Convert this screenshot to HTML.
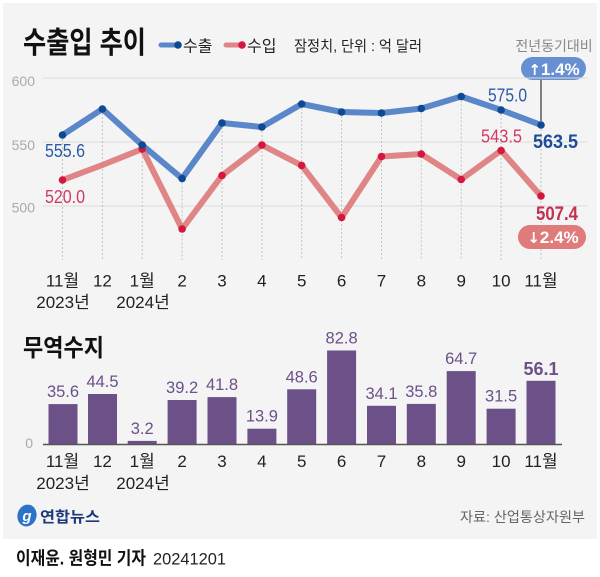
<!DOCTYPE html>
<html><head><meta charset="utf-8">
<style>
html,body{margin:0;padding:0;background:#fff;}
svg{display:block;}
text{font-family:"Liberation Sans","Noto Sans CJK KR",sans-serif;}
</style></head><body>
<svg width="600" height="577" viewBox="0 0 600 577" xmlns="http://www.w3.org/2000/svg">
<rect x="0" y="0" width="600" height="577" fill="#fff"/>
<rect x="3" y="3" width="594" height="536" fill="#f4f4f4"/>

<!-- title & legend -->
<text x="23" y="53" font-size="30" font-weight="bold" fill="#111" textLength="123" lengthAdjust="spacingAndGlyphs">수출입 추이</text>
<line x1="161" y1="45" x2="177" y2="45" stroke="#5b86c9" stroke-width="5" stroke-linecap="round"/>
<circle cx="178" cy="45" r="3.8" fill="#0d4a94"/>
<text x="183" y="51.5" font-size="16" fill="#222">수출</text>
<line x1="226" y1="45" x2="241" y2="45" stroke="#e08585" stroke-width="5" stroke-linecap="round"/>
<circle cx="242" cy="45" r="3.8" fill="#d4173f"/>
<text x="247" y="51.5" font-size="16" fill="#222">수입</text>
<text x="294" y="51" font-size="15" fill="#222" textLength="128" lengthAdjust="spacingAndGlyphs">잠정치, 단위 : 억 달러</text>

<text x="554" y="51" font-size="14" fill="#888" text-anchor="middle">전년동기대비</text>
<rect x="521" y="57" width="65" height="23" rx="11.5" fill="#6790d2"/>
<text x="554" y="75" font-size="17" font-weight="bold" fill="#fff" text-anchor="middle"><tspan font-family="DejaVu Sans" font-size="15">↑</tspan>1.4%</text>

<!-- gridlines -->
<g stroke="#dcdcdc" stroke-width="1">
<line x1="43" y1="78" x2="588" y2="78"/>
<line x1="43" y1="142" x2="588" y2="142"/>
<line x1="43" y1="206" x2="588" y2="206"/>
</g>
<g font-size="14" fill="#aaa" text-anchor="end">
<text x="35" y="86">600</text>
<text x="35" y="150">550</text>
<text x="35" y="212.5">500</text>
</g>

<!-- vertical dotted -->
<g stroke="#c4c4c4" stroke-width="1" stroke-dasharray="2,2">
<line x1="62.5" y1="135" x2="62.5" y2="260"/>
<line x1="102.4" y1="109" x2="102.4" y2="260"/>
<line x1="142.2" y1="145" x2="142.2" y2="260"/>
<line x1="182.1" y1="178.5" x2="182.1" y2="260"/>
<line x1="222" y1="123" x2="222" y2="260"/>
<line x1="261.9" y1="127" x2="261.9" y2="260"/>
<line x1="301.7" y1="104" x2="301.7" y2="260"/>
<line x1="341.6" y1="112" x2="341.6" y2="260"/>
<line x1="381.5" y1="113" x2="381.5" y2="260"/>
<line x1="421.3" y1="108.5" x2="421.3" y2="260"/>
<line x1="461.2" y1="96.5" x2="461.2" y2="260"/>
<line x1="501.1" y1="110" x2="501.1" y2="260"/>
<line x1="541" y1="125" x2="541" y2="260"/>
</g>
<line x1="541" y1="80" x2="541" y2="121" stroke="#333" stroke-width="1.2"/>

<!-- import line -->
<polyline fill="none" stroke="#e08585" stroke-width="6" stroke-linejoin="round" stroke-linecap="round"
points="62.5,180 102.4,165 142.2,149 182.1,229 222,175.5 261.9,145 301.7,165.5 341.6,217.5 381.5,156.5 421.3,154 461.2,179.5 501.1,150.5 541,196"/>
<!-- export line -->
<polyline fill="none" stroke="#5b86c9" stroke-width="6" stroke-linejoin="round" stroke-linecap="round"
points="62.5,135 102.4,109 142.2,145 182.1,178.5 222,123 261.9,127 301.7,104 341.6,112 381.5,113 421.3,108.5 461.2,96.5 501.1,110 541,125"/>

<g fill="#d4173f">
<circle cx="62.5" cy="180" r="3.8"/>
<circle cx="142.2" cy="149" r="3.8"/>
<circle cx="182.1" cy="229" r="3.8"/>
<circle cx="222" cy="175.5" r="3.8"/>
<circle cx="261.9" cy="145" r="3.8"/>
<circle cx="301.7" cy="165.5" r="3.8"/>
<circle cx="341.6" cy="217.5" r="3.8"/>
<circle cx="381.5" cy="156.5" r="3.8"/>
<circle cx="421.3" cy="154" r="3.8"/>
<circle cx="461.2" cy="179.5" r="3.8"/>
<circle cx="501.1" cy="150.5" r="3.8"/>
<circle cx="541" cy="196" r="3.8"/>
</g>
<g fill="#0d4a94">
<circle cx="62.5" cy="135" r="3.8"/>
<circle cx="102.4" cy="109" r="3.8"/>
<circle cx="142.2" cy="145" r="3.8"/>
<circle cx="182.1" cy="178.5" r="3.8"/>
<circle cx="222" cy="123" r="3.8"/>
<circle cx="261.9" cy="127" r="3.8"/>
<circle cx="301.7" cy="104" r="3.8"/>
<circle cx="341.6" cy="112" r="3.8"/>
<circle cx="381.5" cy="113" r="3.8"/>
<circle cx="421.3" cy="108.5" r="3.8"/>
<circle cx="461.2" cy="96.5" r="3.8"/>
<circle cx="501.1" cy="110" r="3.8"/>
<circle cx="541" cy="125" r="3.8"/>
</g>

<!-- line data labels -->
<text x="45" y="157" font-size="18" fill="#2b5aa8" textLength="40" lengthAdjust="spacingAndGlyphs">555.6</text>
<text x="45" y="203" font-size="18" fill="#d23a64" textLength="40" lengthAdjust="spacingAndGlyphs">520.0</text>
<text x="488" y="101.5" font-size="18" fill="#2b5aa8" textLength="39" lengthAdjust="spacingAndGlyphs">575.0</text>
<text x="481" y="142.5" font-size="18" fill="#d23a64" textLength="41" lengthAdjust="spacingAndGlyphs">543.5</text>
<text x="533" y="148" font-size="19" font-weight="bold" fill="#1c4d98" textLength="45" lengthAdjust="spacingAndGlyphs">563.5</text>
<text x="536" y="220" font-size="19" font-weight="bold" fill="#c4304f" textLength="42" lengthAdjust="spacingAndGlyphs">507.4</text>

<rect x="518" y="225" width="68" height="24" rx="12" fill="#e07b7b"/>
<text x="553" y="243" font-size="17" font-weight="bold" fill="#fff" text-anchor="middle"><tspan font-family="DejaVu Sans" font-size="15">↓</tspan>2.4%</text>

<!-- line x labels -->
<g font-size="17" fill="#222" text-anchor="middle">
<text x="62.5" y="286.5">11월</text>
<text x="102.4" y="286.5">12</text>
<text x="142.2" y="286.5">1월</text>
<text x="182.1" y="286.5">2</text>
<text x="222" y="286.5">3</text>
<text x="261.9" y="286.5">4</text>
<text x="301.7" y="286.5">5</text>
<text x="341.6" y="286.5">6</text>
<text x="381.5" y="286.5">7</text>
<text x="421.3" y="286.5">8</text>
<text x="461.2" y="286.5">9</text>
<text x="501.1" y="286.5">10</text>
<text x="541" y="286.5">11월</text>
<text x="63" y="308">2023년</text>
<text x="143" y="308">2024년</text>
</g>

<!-- bar chart -->
<text x="23" y="356" font-size="24" font-weight="bold" fill="#111" textLength="81" lengthAdjust="spacingAndGlyphs">무역수지</text>
<text x="33" y="448" font-size="14" fill="#aaa" text-anchor="end">0</text>
<g fill="#6c5088">
<rect x="48.5" y="404.1" width="29" height="40.4"/>
<rect x="88" y="394" width="29" height="50.5"/>
<rect x="127.7" y="440.9" width="29" height="3.6"/>
<rect x="167.6" y="400" width="29" height="44.5"/>
<rect x="207.5" y="397.1" width="29" height="47.4"/>
<rect x="247.4" y="428.7" width="29" height="15.8"/>
<rect x="287.2" y="389.3" width="29" height="55.2"/>
<rect x="327.1" y="350.5" width="29" height="94"/>
<rect x="367" y="405.8" width="29" height="38.7"/>
<rect x="406.8" y="403.9" width="29" height="40.6"/>
<rect x="446.7" y="371.1" width="29" height="73.4"/>
<rect x="486.6" y="408.7" width="29" height="35.8"/>
<rect x="526.5" y="380.8" width="29" height="63.7"/>
</g>
<line x1="43" y1="444.5" x2="562" y2="444.5" stroke="#555" stroke-width="1.5"/>
<g font-size="16.5" fill="#6c5088" text-anchor="middle">
<text x="63" y="397">35.6</text>
<text x="102.5" y="387">44.5</text>
<text x="142.2" y="434">3.2</text>
<text x="182.1" y="393">39.2</text>
<text x="222" y="390">41.8</text>
<text x="261.9" y="421.7">13.9</text>
<text x="301.7" y="382.3">48.6</text>
<text x="341.6" y="343.5">82.8</text>
<text x="381.5" y="398.8">34.1</text>
<text x="421.3" y="396.9">35.8</text>
<text x="461.2" y="364.1">64.7</text>
<text x="501.1" y="401.7">31.5</text>
<text x="541" y="375" font-size="18" font-weight="bold">56.1</text>
</g>
<g font-size="17" fill="#222" text-anchor="middle">
<text x="62.5" y="467">11월</text>
<text x="102.4" y="467">12</text>
<text x="142.2" y="467">1월</text>
<text x="182.1" y="467">2</text>
<text x="222" y="467">3</text>
<text x="261.9" y="467">4</text>
<text x="301.7" y="467">5</text>
<text x="341.6" y="467">6</text>
<text x="381.5" y="467">7</text>
<text x="421.3" y="467">8</text>
<text x="461.2" y="467">9</text>
<text x="501.1" y="467">10</text>
<text x="541" y="467">11월</text>
<text x="63" y="489">2023년</text>
<text x="143" y="489">2024년</text>
</g>

<!-- footer -->
<ellipse cx="27" cy="515.5" rx="9.5" ry="11" fill="#2a73c8" transform="rotate(15 27 515.5)"/>
<text x="27" y="521" font-size="15" font-weight="bold" font-style="italic" fill="#fff" text-anchor="middle">g</text>
<text x="40" y="522" font-size="15" font-weight="bold" fill="#1d3a78" textLength="60" lengthAdjust="spacingAndGlyphs">연합뉴스</text>
<text x="585" y="522" font-size="14" fill="#666" text-anchor="end" textLength="125" lengthAdjust="spacingAndGlyphs">자료: 산업통상자원부</text>

<text x="16" y="564.5" font-size="18" font-weight="bold" fill="#111" textLength="130" lengthAdjust="spacingAndGlyphs">이재윤. 원형민 기자</text>
<text x="153" y="564.5" font-size="16.5" fill="#222" textLength="73" lengthAdjust="spacingAndGlyphs">20241201</text>
</svg>
</body></html>
